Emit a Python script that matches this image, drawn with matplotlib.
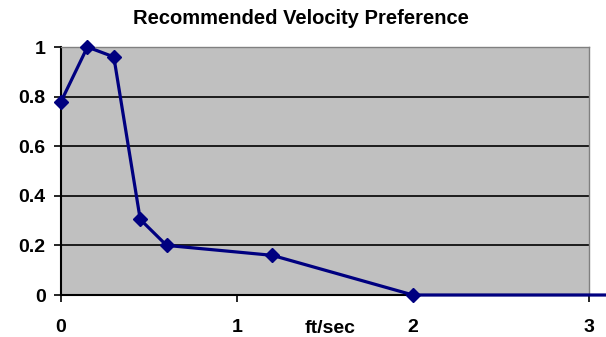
import matplotlib.pyplot as plt
import numpy as np

plt.rcParams['font.family'] = ['Liberation Sans', 'DejaVu Sans']

# velocity (ft/sec) vs. preference
velocity = [0.0, 0.15, 0.3, 0.45, 0.6, 1.2, 2.0, 3.5]
preference = [0.78, 1.0, 0.96, 0.305, 0.2, 0.16, 0.0, 0.0]

x_ticks = [0, 1, 2, 3]
y_ticks = [0, 0.2, 0.4, 0.6, 0.8, 1.0]
y_labels = ['0', '0.2', '0.4', '0.6', '0.8', '1']

fig = plt.figure(figsize=(6.06, 3.37), dpi=100)
ax = fig.add_axes([0.1007, 0.1246, 0.8713, 0.7359])
ax.set_facecolor('#C0C0C0')

# black gridlines between the ends
for y in y_ticks[1:-1]:
    ax.axhline(y, color='black', lw=1.2, zorder=1)

ax.plot(velocity, preference, color='#000080', lw=2.3, marker='D',
        markersize=7, clip_on=False, zorder=3)

ax.set_xlim(0, 3)
ax.set_ylim(0, 1)
ax.set_xticks(x_ticks)
ax.set_xticklabels([str(t) for t in x_ticks])
ax.set_yticks(y_ticks)
ax.set_yticklabels(y_labels)

for side in ['top', 'right']:
    ax.spines[side].set_color('#808080')
    ax.spines[side].set_linewidth(1.0)
for side in ['left', 'bottom']:
    ax.spines[side].set_color('black')
    ax.spines[side].set_linewidth(1.5)

ax.tick_params(axis='both', direction='out', length=5, width=1.2,
               labelsize=14, pad=6)
for lbl in ax.get_xticklabels() + ax.get_yticklabels():
    lbl.set_fontweight('bold')
ax.tick_params(axis='x', pad=12)

ax.text(0.51, -0.1, 'ft/sec', transform=ax.transAxes, ha='center',
        va='top', fontsize=14, fontweight='bold')

fig.text(0.497, 0.945, 'Recommended Velocity Preference', ha='center',
         va='center', fontsize=14.5, fontweight='bold')

fig.savefig('out.png', dpi=100)
